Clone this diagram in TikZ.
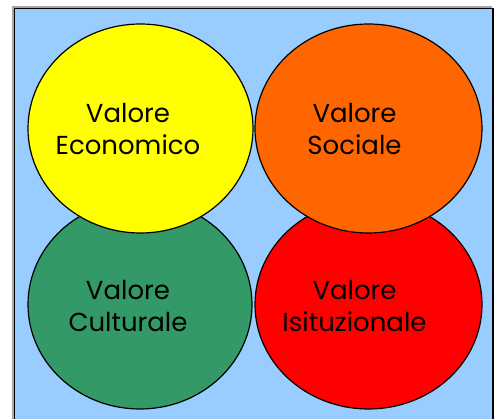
\documentclass[tikz,border=0pt]{standalone}
\usepackage{fontspec}
\setmainfont{Poppins}
\usepackage{tikz}

\begin{document}
\begin{tikzpicture}[x=1pt,y=-1pt,
	valore/.style={align=center, inner sep=0pt, font=\fontsize{26}{32}\selectfont}]
			%%%%% START %%%%%
			\useasboundingbox (0, 0) rectangle (495, 419);
			
			\draw[line width=1.5pt, color=black!35] (13, 425) -- (13, 7) -- (492, 7);
			\draw[line width=1.5pt, fill={rgb,255:red,153;green,204;blue,255}] (14.5, 8.5) rectangle (493, 430);
			
			\draw[line width=1.2pt, fill={rgb,255:red,51;green,153;blue,102}] (140, 304.5) ellipse (112 and 104.5);
			\draw[line width=1.2pt, fill={rgb,255:red,255;green,0;blue,0}] (368.5, 304.5) ellipse (113.5 and 104.5);
			
			\draw[line width=1.2pt, fill={rgb,255:red,255;green,255;blue,0}] (140.5, 128.5) ellipse (112.5 and 104.5);
			\draw[line width=1.2pt, fill={rgb,255:red,255;green,102;blue,0}] (368.5, 128.5) ellipse (113.5 and 104.5);
			
			\node[valore] (economico) at (128, 129) {Valore\\Economico};
			\node[valore] (sociale) at (354.5, 129) {Valore\\Sociale};
			\node[valore] (culturale) at (128, 305.5) {Valore\\Culturale};
			\node[valore] (istituzionale) at (354.5, 305.5) {Valore\\Isituzionale};
			
			%%%%% END %%%%%
\end{tikzpicture}
\end{document}
